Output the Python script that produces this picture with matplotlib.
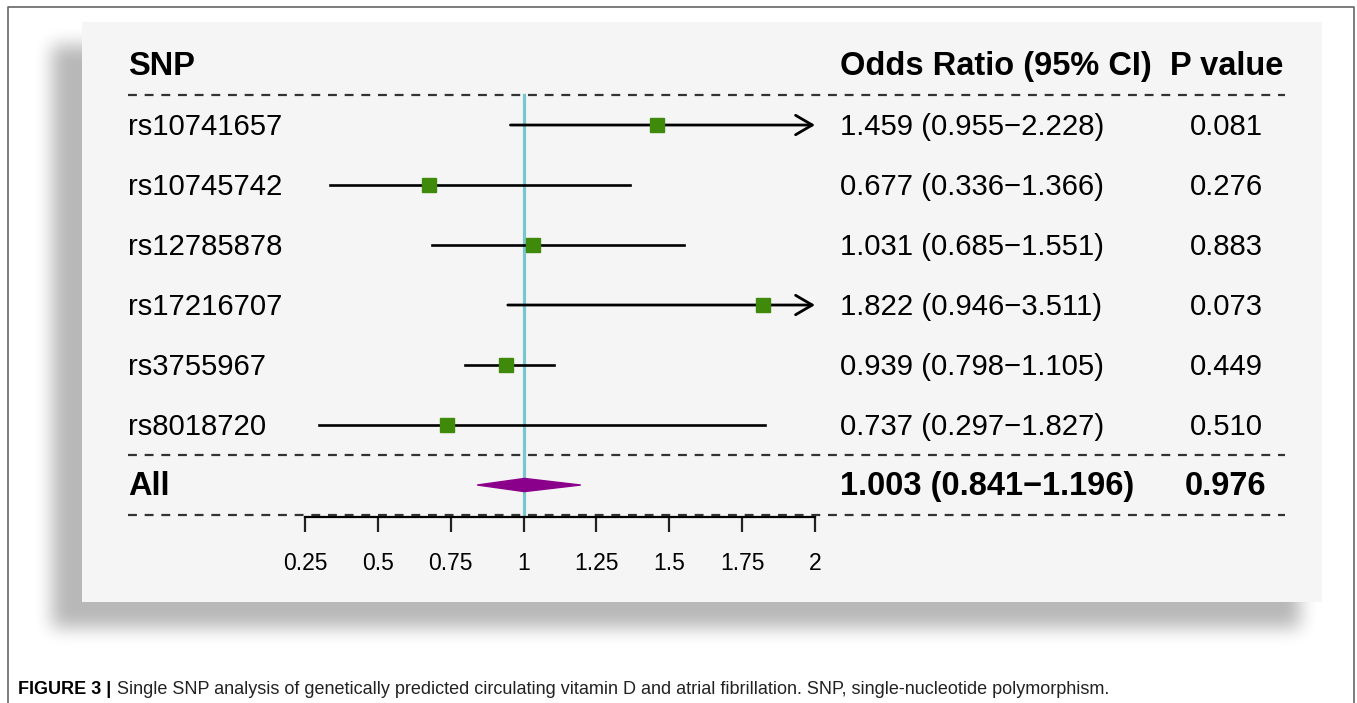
import numpy as np
import matplotlib.pyplot as plt
from matplotlib.patches import Rectangle, Polygon
import matplotlib.transforms as mtransforms

plt.rcParams['font.family'] = ['Liberation Sans', 'DejaVu Sans']

# data
snps = ["rs10741657", "rs10745742", "rs12785878", "rs17216707", "rs3755967", "rs8018720"]
odds = [1.459, 0.677, 1.031, 1.822, 0.939, 0.737]
lower = [0.955, 0.336, 0.685, 0.946, 0.798, 0.297]
upper = [2.228, 1.366, 1.551, 3.511, 1.105, 1.827]
pvals = ["0.081", "0.276", "0.883", "0.073", "0.449", "0.510"]
all_or, all_lo, all_hi, all_p = 1.003, 0.841, 1.196, "0.976"
xticks = [0.25, 0.5, 0.75, 1, 1.25, 1.5, 1.75, 2]
xticklabels = ["0.25", "0.5", "0.75", "1", "1.25", "1.5", "1.75", "2"]

W, H = 1357, 703
fig = plt.figure(figsize=(W / 100, H / 100), dpi=100)

# background: white page with blurred shadow behind the panel
bg = fig.add_axes([0, 0, 1, 1], zorder=-10)
img = np.ones((H, W))
mask = np.zeros((H, W))
mask[45:628, 52:1300] = 1.0
# box blur a few times -> soft edge
k = 8
for _ in range(3):
    c = np.cumsum(np.pad(mask, ((0, 0), (k + 1, k)), mode="edge"), axis=1)
    mask = (c[:, 2 * k + 1:] - c[:, :-2 * k - 1]) / (2 * k + 1)
    c = np.cumsum(np.pad(mask, ((k + 1, k), (0, 0)), mode="edge"), axis=0)
    mask = (c[2 * k + 1:, :] - c[:-2 * k - 1, :]) / (2 * k + 1)
img = img - 0.28 * mask
bg.imshow(img, cmap="gray", vmin=0, vmax=1, extent=(0, W, H, 0), aspect="auto", interpolation="bilinear")
bg.add_patch(Rectangle((82, 22), 1240, 580, facecolor="#f5f5f5", edgecolor="none"))
# outer frame of the figure box
bg.plot([8, 8, 1354, 1354], [H + 5, 7, 7, H + 5], color="#666666", lw=1.2)
bg.set_xlim(0, W)
bg.set_ylim(H, 0)
bg.axis("off")

# forest plot axes (x 0.25..2 between px 305 and 815, y px 22..517)
ax = fig.add_axes([305 / W, 1 - 517 / H, 510 / W, 495 / H])
ax.set_xlim(0.25, 2)
ax.set_ylim(6.533, -1.717)
ax.patch.set_visible(False)
for s in ["top", "right", "left"]:
    ax.spines[s].set_visible(False)
ax.spines["bottom"].set_linewidth(1.6)
ax.set_yticks([])
ax.set_xticks(xticks)
ax.set_xticklabels(xticklabels, fontsize=16.5)
ax.tick_params(axis="x", length=11, width=1.6, pad=14, color="#222222")

tr = mtransforms.blended_transform_factory(fig.transFigure, ax.transData)

def fx(px):
    return px / W

fs, fsb, off = 21.1, 23.5, 0.17

# dashed separators
for yy in [-0.5, 5.5, 6.5]:
    ax.plot([fx(128), fx(1285)], [yy, yy], transform=tr, color="#333333", lw=1.6,
            ls=(0, (4, 3.5)), clip_on=False, zorder=1)

# reference line at OR = 1
ax.plot([1, 1], [-0.5, 6.5], color="#78c6d0", lw=2.3, zorder=2, clip_on=False)

for i in range(len(snps)):
    hi = min(upper[i], 2.0)
    if upper[i] > 2.0:
        ax.annotate("", xy=(hi, i), xytext=(lower[i], i),
                    arrowprops=dict(arrowstyle="->,head_length=0.6,head_width=0.35",
                                    color="black", lw=2, shrinkA=0, shrinkB=0,
                                    mutation_scale=20), zorder=3, annotation_clip=False)
    else:
        ax.plot([lower[i], hi], [i, i], color="black", lw=1.9, zorder=3)
    ax.plot(odds[i], i, marker="s", ms=10, color="#3f8a0a", mec="#3f8a0a", zorder=4)

    ax.text(fx(128), i + off, snps[i], transform=tr, fontsize=fs, va="baseline", ha="left")
    ax.text(fx(840), i + off, f"{odds[i]:.3f} ({lower[i]:.3f}\u2212{upper[i]:.3f})", transform=tr,
            fontsize=fs, va="baseline", ha="left")
    ax.text(fx(1226), i + off, pvals[i], transform=tr, fontsize=fs, va="baseline", ha="center")

# pooled estimate diamond
dh = 0.11
ax.add_patch(Polygon([(all_lo, 6), (all_or, 6 - dh), (all_hi, 6), (all_or, 6 + dh)],
                     closed=True, facecolor="#8b008b", edgecolor="#8b008b", zorder=4))

# header and summary rows
ax.text(fx(128), -1 + off, "SNP", transform=tr, fontsize=fsb, fontweight="bold", va="baseline")
ax.text(fx(840), -1 + off, "Odds Ratio (95% CI)", transform=tr, fontsize=fsb, fontweight="bold", va="baseline")
ax.text(fx(1170), -1 + off, "P value", transform=tr, fontsize=fsb, fontweight="bold", va="baseline")
ax.text(fx(128), 6 + off, "All", transform=tr, fontsize=fsb, fontweight="bold", va="baseline")
ax.text(fx(840), 6 + off, f"{all_or:.3f} ({all_lo:.3f}\u2212{all_hi:.3f})", transform=tr,
        fontsize=fsb, fontweight="bold", va="baseline")
ax.text(fx(1225), 6 + off, all_p, transform=tr, fontsize=fsb, fontweight="bold", va="baseline", ha="center")

# caption
cap = fig.text(18 / W, 1 - 690 / H, "FIGURE 3 |", fontsize=13, fontweight="bold", va="center", ha="left")
ax.annotate("Single SNP analysis of genetically predicted circulating vitamin D and atrial fibrillation. "
            "SNP, single-nucleotide polymorphism.", xy=(1, 0.5), xycoords=cap,
            xytext=(4, 0), textcoords="offset points", fontsize=13, va="center", ha="left",
            color="#222222", annotation_clip=False)

fig.savefig("out.png", dpi=100)
